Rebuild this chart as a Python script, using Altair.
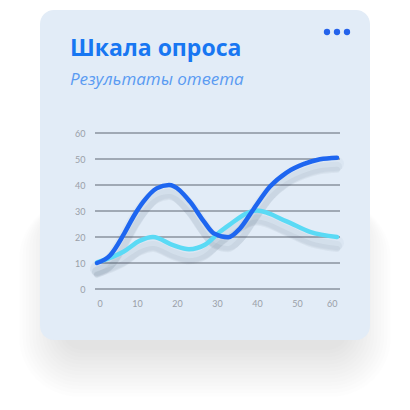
import altair as alt
import pandas as pd

# Data
dark_x = [0, 3.3, 6.6, 9.1, 11.6, 14.9, 18, 23.3, 26.7, 29.2, 32.8, 35.75, 39, 43.25, 47.4, 51.6, 55.75, 60]
dark_y = [10, 13, 20.8, 27.8, 33.6, 38.7, 40, 33.5, 26, 21.4, 19.9, 23.3, 30.4, 39.4, 44.8, 48, 49.9, 50.5]
light_x = [0, 6.6, 10.75, 14, 19, 23, 27, 30.75, 33, 40, 47.4, 53.25, 60]
light_y = [10.2, 14.3, 18.6, 20, 16.9, 15.3, 17, 22, 24.6, 30.2, 26, 22, 20]
x_ticks = [0, 10, 20, 30, 40, 50, 60]
y_ticks = [0, 10, 20, 30, 40, 50, 60]
title_text = "Шкала опроса"
subtitle_text = "Результаты ответа"

dark = pd.DataFrame({"x": dark_x, "y": dark_y})
light = pd.DataFrame({"x": light_x, "y": light_y})
grid_df = pd.DataFrame({"y": y_ticks})
one = pd.DataFrame({"a": [0]})

W, H = 240, 156
L, T = 97, 133

xs = alt.Scale(domain=[0, 60], nice=False)
ys = alt.Scale(domain=[0, 60], nice=False)

axis_x = alt.Axis(values=x_ticks, grid=False, domain=False, ticks=False,
                  labelColor="#9AA0A8", labelFont="Lato", labelFontSize=9,
                  labelPadding=10, title=None, zindex=1, labelOverlap=False)
axis_y = alt.Axis(values=y_ticks, grid=False, domain=False, ticks=False,
                  labelColor="#9AA0A8", labelFont="Lato", labelFontSize=9,
                  labelPadding=12, title=None, zindex=1, labelOverlap=False)

X = alt.X("x:Q", scale=xs, axis=axis_x)
Y = alt.Y("y:Q", scale=ys, axis=axis_y)

# card shadow layers (soft, mostly below)
shadow_layers = []
for k in range(14):
    shadow_layers.append(
        alt.Chart(one).mark_rect(cornerRadius=20 + 3 * k, color="#000000", opacity=0.009).encode(
            x=alt.value(62 - 3.3 * k - L), x2=alt.value(348 + 3.3 * k - L),
            y=alt.value(200 - T), y2=alt.value(350 + 3.6 * k - T)
        )
    )

card = alt.Chart(one).mark_rect(cornerRadius=14, color="#E2ECF7").encode(
    x=alt.value(40 - L), x2=alt.value(370 - L), y=alt.value(10 - T), y2=alt.value(340 - T)
)

title = alt.Chart(one).mark_text(
    text=title_text, font="Open Sans", fontSize=23, fontWeight="bold",
    color="#1877F2", align="left", baseline="alphabetic"
).encode(x=alt.value(70 - L), y=alt.value(56 - T))

subtitle = alt.Chart(one).mark_text(
    text=subtitle_text, font="Open Sans", fontSize=17, fontStyle="italic",
    color="#5A9BF2", align="left", baseline="alphabetic"
).encode(x=alt.value(70 - L), y=alt.value(85 - T))

dots = [
    alt.Chart(one).mark_circle(size=40, color="#2563EB", opacity=1).encode(
        x=alt.value(px - L), y=alt.value(32 - T)
    ) for px in (327, 337, 347)
]

grid = alt.Chart(grid_df).mark_rule(color="#5F6672", strokeWidth=1).encode(
    x=alt.value(-2), x2=alt.value(W + 3), y=Y,
)

def shadow(df):
    layers = []
    for off, wdt, op in [(6, 14, 0.03), (9, 10, 0.045), (12, 6, 0.05)]:
        layers.append(alt.Chart(df).mark_line(
            interpolate="monotone", color="#2A3A55", strokeWidth=wdt, opacity=op,
            yOffset=off, strokeCap="round"
        ).encode(x=X, y=Y))
    return layers

light_line = alt.Chart(light).mark_line(
    interpolate="monotone", color="#5ADAF5", strokeWidth=4.5, strokeCap="round"
).encode(x=X, y=Y)

dark_line = alt.Chart(dark).mark_line(
    interpolate="monotone", color="#1E66F0", strokeWidth=4.5, strokeCap="round"
).encode(x=X, y=Y)

chart = alt.layer(
    *shadow_layers, card, title, subtitle, *dots, grid,
    *shadow(light), *shadow(dark), light_line, dark_line
).properties(
    width=W, height=H,
    autosize=alt.AutoSizeParams(type="none"),
    padding={"left": L, "top": T, "right": 410 - L - W, "bottom": 410 - T - H},
    background="#FFFFFF",
).configure_view(stroke=None)

chart.save("out.html", embed_options={"renderer": "svg", "actions": False})
